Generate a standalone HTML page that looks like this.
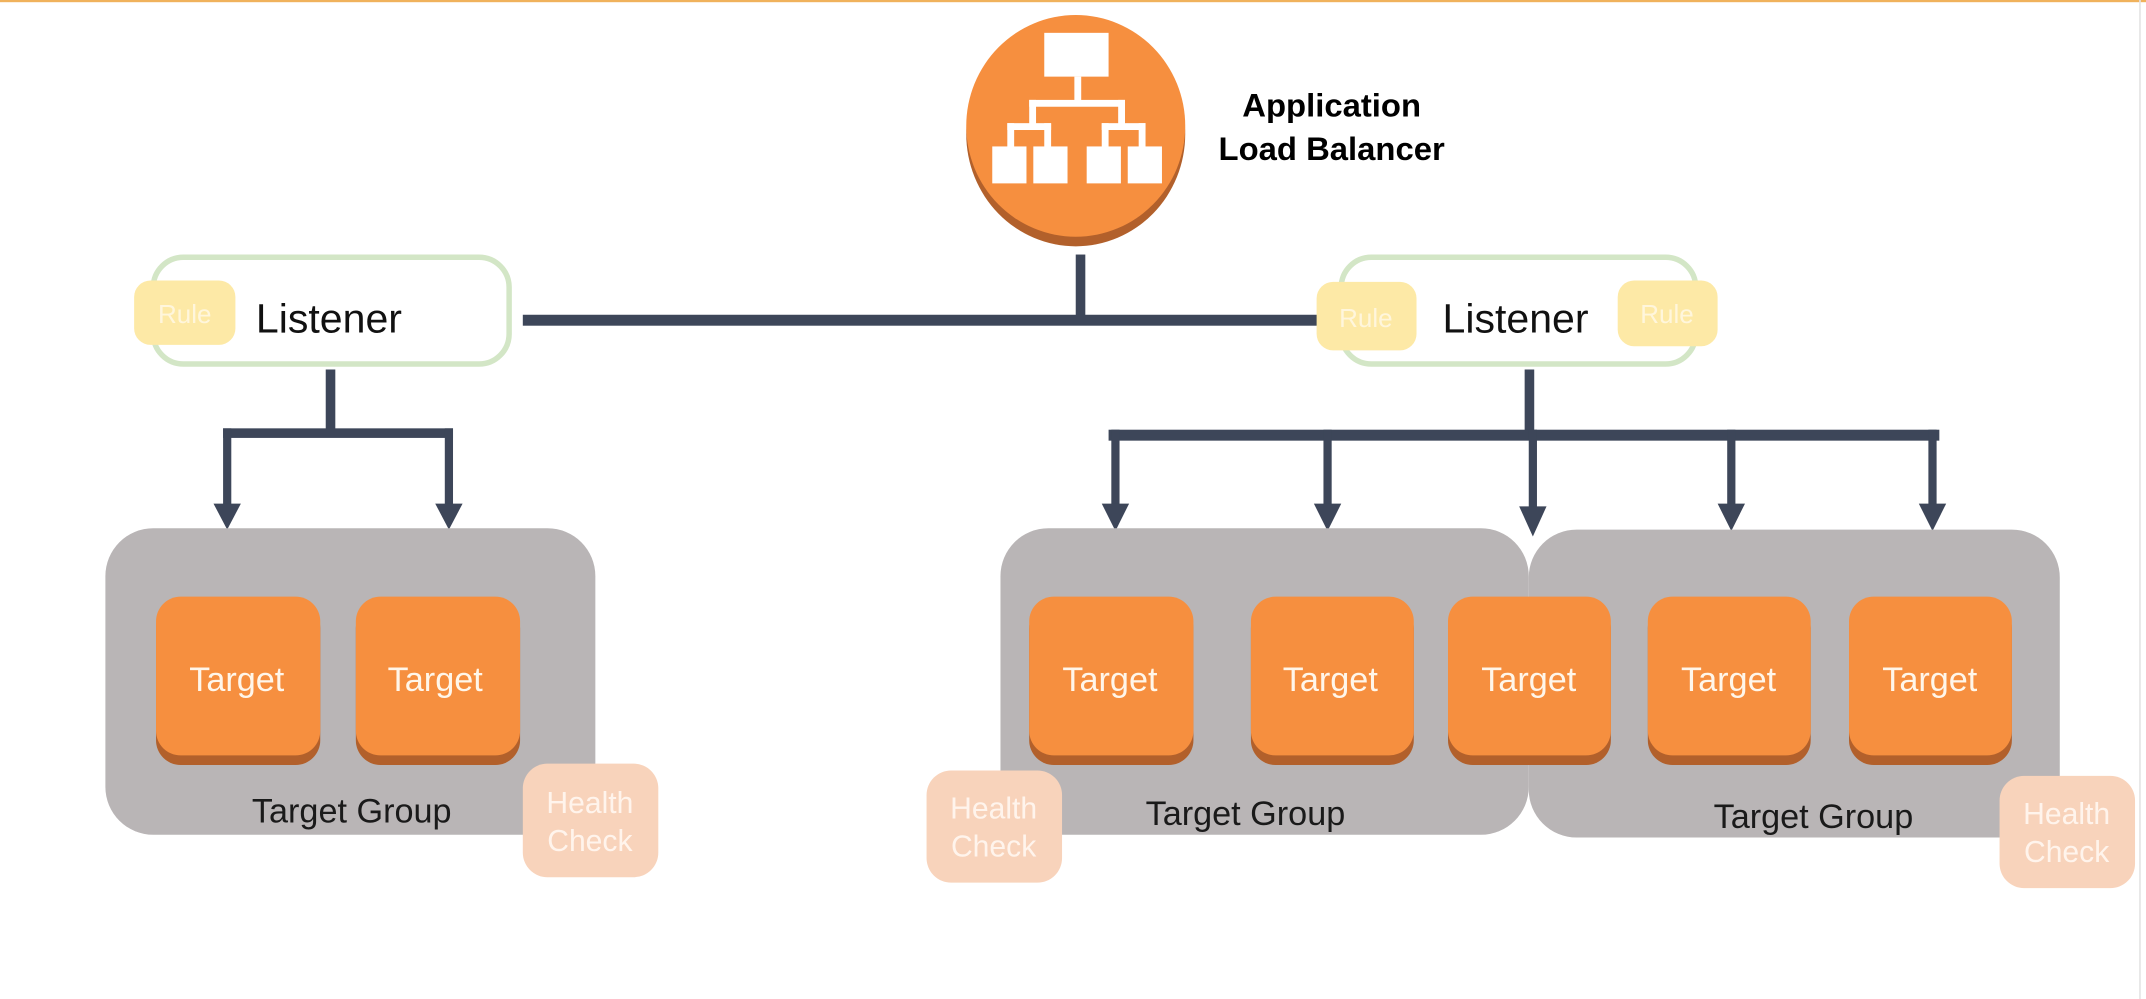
<!DOCTYPE html>
<html><head><meta charset="utf-8"><style>
html,body{margin:0;padding:0;background:#fff;}
svg{display:block;}
text{font-family:"Liberation Sans",sans-serif;}
</style></head><body>
<svg width="2146" height="999" viewBox="0 0 1568 730" preserveAspectRatio="none" xmlns="http://www.w3.org/2000/svg">
<rect x="0" y="0" width="1568" height="1.6" fill="#f0b25c"/>
<rect x="1563" y="0" width="1.2" height="730" fill="#e4e4e4"/>
<!-- ALB -->
<ellipse cx="786" cy="98" rx="80" ry="82" fill="#b2602b"/>
<ellipse cx="786" cy="92" rx="80" ry="81" fill="#f68f3f"/>
<g fill="#fff">
<rect x="763" y="24" width="47" height="32"/>
<rect x="785" y="56" width="5" height="20"/>
<rect x="752" y="73" width="70" height="5"/>
<rect x="752" y="73" width="5" height="20"/>
<rect x="817" y="73" width="5" height="20"/>
<rect x="736" y="90" width="32" height="5"/>
<rect x="805" y="90" width="32" height="5"/>
<rect x="736" y="90" width="5" height="20"/>
<rect x="763" y="90" width="5" height="20"/>
<rect x="805" y="90" width="5" height="20"/>
<rect x="832" y="90" width="5" height="20"/>
<rect x="725" y="107" width="25" height="27"/>
<rect x="755" y="107" width="25" height="27"/>
<rect x="794" y="107" width="25" height="27"/>
<rect x="824" y="107" width="25" height="27"/>
</g>
<text x="973" y="85" font-size="24" font-weight="bold" text-anchor="middle" fill="#000">Application</text>
<text x="973" y="117" font-size="24" font-weight="bold" text-anchor="middle" fill="#000">Load Balancer</text>
<!-- connectors -->
<g fill="#3d4659">
<rect x="786" y="186" width="7" height="50"/>
<rect x="382" y="230" width="584" height="8"/>
<rect x="238" y="270" width="7" height="49"/>
<rect x="163" y="313" width="168" height="7"/>
<rect x="163" y="313" width="6" height="58"/>
<rect x="325" y="313" width="6" height="58"/>
<polygon points="156,368 176,368 166,387"/>
<polygon points="318,368 338,368 328,387"/>
<rect x="1114" y="270" width="7" height="50"/>
<rect x="810" y="314" width="607" height="8"/>
<rect x="812" y="314" width="6" height="58"/>
<rect x="967" y="314" width="6" height="58"/>
<rect x="1117" y="314" width="6" height="58"/>
<rect x="1262" y="314" width="6" height="58"/>
<rect x="1409" y="314" width="6" height="58"/>
<polygon points="805,368 825,368 815,388"/>
<polygon points="960,368 980,368 970,388"/>
<polygon points="1110,370 1130,370 1120,392"/>
<polygon points="1255,368 1275,368 1265,388"/>
<polygon points="1402,368 1422,368 1412,388"/>
</g>
<!-- listeners -->
<rect x="112" y="188" width="260" height="78" rx="22" fill="#fff" stroke="#d3e6c6" stroke-width="4"/>
<rect x="98" y="205" width="74" height="47" rx="12" fill="#fde9a6"/>
<text x="135" y="236" font-size="19" text-anchor="middle" fill="#fff6dc">Rule</text>
<text x="187" y="243" font-size="30" fill="#111">Listener</text>
<rect x="980" y="188" width="259" height="78" rx="22" fill="#fff" stroke="#d3e6c6" stroke-width="4"/>
<rect x="962" y="206" width="73" height="50" rx="12" fill="#fde9a6"/>
<text x="998" y="239" font-size="19" text-anchor="middle" fill="#fff6dc">Rule</text>
<rect x="1182" y="205" width="73" height="48" rx="12" fill="#fde9a6"/>
<text x="1218" y="236" font-size="19" text-anchor="middle" fill="#fff6dc">Rule</text>
<text x="1054" y="243" font-size="30" fill="#111">Listener</text>
<!-- groups -->
<rect x="77" y="386" width="358" height="224" rx="35" fill="#b9b5b6"/>
<rect x="731" y="386" width="386" height="224" rx="35" fill="#b9b5b6"/>
<rect x="1117" y="387" width="388" height="225" rx="35" fill="#b9b5b6"/>
<g>
<rect x="114" y="441" width="120" height="118" rx="18" fill="#b2602b"/>
<rect x="114" y="436" width="120" height="116" rx="18" fill="#f68f3f"/>
<rect x="260" y="441" width="120" height="118" rx="18" fill="#b2602b"/>
<rect x="260" y="436" width="120" height="116" rx="18" fill="#f68f3f"/>
<rect x="752" y="441" width="120" height="118" rx="18" fill="#b2602b"/>
<rect x="752" y="436" width="120" height="116" rx="18" fill="#f68f3f"/>
<rect x="914" y="441" width="119" height="118" rx="18" fill="#b2602b"/>
<rect x="914" y="436" width="119" height="116" rx="18" fill="#f68f3f"/>
<rect x="1058" y="441" width="119" height="118" rx="18" fill="#b2602b"/>
<rect x="1058" y="436" width="119" height="116" rx="18" fill="#f68f3f"/>
<rect x="1204" y="441" width="119" height="118" rx="18" fill="#b2602b"/>
<rect x="1204" y="436" width="119" height="116" rx="18" fill="#f68f3f"/>
<rect x="1351" y="441" width="119" height="118" rx="18" fill="#b2602b"/>
<rect x="1351" y="436" width="119" height="116" rx="18" fill="#f68f3f"/>
</g>
<g font-size="25" fill="#fff6ea" text-anchor="middle">
<text x="173" y="505">Target</text>
<text x="318" y="505">Target</text>
<text x="811" y="505">Target</text>
<text x="972" y="505">Target</text>
<text x="1117" y="505">Target</text>
<text x="1263" y="505">Target</text>
<text x="1410" y="505">Target</text>
</g>
<g font-size="25" fill="#1a1a1a" text-anchor="middle">
<text x="257" y="601">Target Group</text>
<text x="910" y="603">Target Group</text>
<text x="1325" y="605">Target Group</text>
</g>
<!-- health checks -->
<rect x="382" y="558" width="99" height="83" rx="18" fill="#f8d3bb"/>
<rect x="677" y="563" width="99" height="82" rx="18" fill="#f8d3bb"/>
<rect x="1461" y="567" width="99" height="82" rx="18" fill="#f8d3bb"/>
<g font-size="22" fill="#fff4ec" text-anchor="middle">
<text x="431" y="594">Health</text><text x="431" y="622">Check</text>
<text x="726" y="598">Health</text><text x="726" y="626">Check</text>
<text x="1510" y="602">Health</text><text x="1510" y="630">Check</text>
</g>
</svg>
</body></html>
